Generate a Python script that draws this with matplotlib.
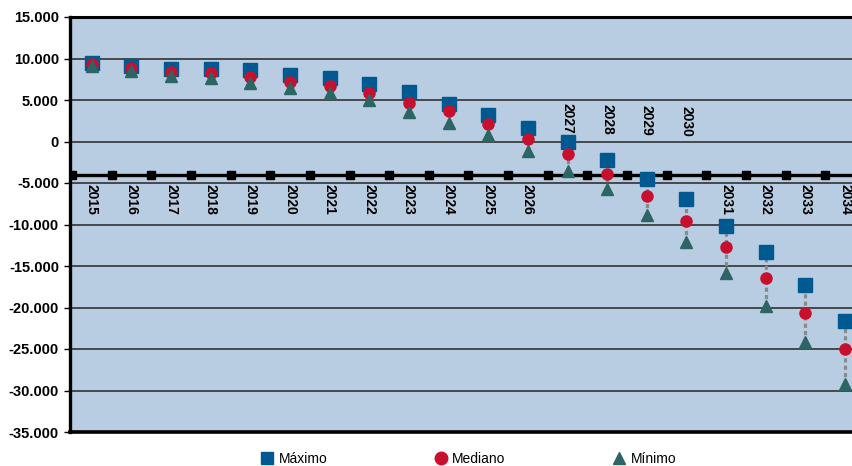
import numpy as np
import matplotlib
matplotlib.use("Agg")
import matplotlib.pyplot as plt
from matplotlib.lines import Line2D
from matplotlib.ticker import FuncFormatter, MultipleLocator

plt.rcParams['font.family'] = ['Liberation Sans', 'DejaVu Sans']

# Projected values per year (maximum, median, minimum scenarios)
years = list(range(2015, 2035))
maximo = [9420, 9100, 8700, 8700, 8600, 8000, 7600, 6900, 6000, 4570,
          3200, 1660, 0, -2200, -4500, -6900, -10200, -13300, -17250, -21600]
mediano = [9300, 8900, 8400, 8200, 7800, 7200, 6700, 5850, 4650, 3670,
           2060, 360, -1540, -3900, -6600, -9600, -12700, -16500, -20700, -25000]
minimo = [9100, 8500, 7900, 7600, 7100, 6500, 5800, 4970, 3600, 2270,
          730, -1170, -3500, -5700, -8800, -12100, -15800, -19800, -24100, -29200]

# Level where the category axis crosses the value axis
axis_level = -4000
# Years whose label sits above the category axis
labels_above = [2027, 2028, 2029, 2030]

C_MAX = '#005A91'
C_MED = '#C8102E'
C_MIN = '#2D6464'
BG = '#B8CCE2'

fig = plt.figure(figsize=(8.53, 4.66), dpi=100)
ax = fig.add_axes([70 / 853, 1 - 432 / 466, 1 - 70 / 853, (432 - 17) / 466])
ax.set_facecolor(BG)

x = np.arange(len(years))
ax.set_xlim(-0.55, 19.2)
ax.set_ylim(-35000, 15000)

# horizontal gridlines
ax.yaxis.set_major_locator(MultipleLocator(5000))
ax.grid(axis='y', color='#262626', linewidth=1.1, zorder=1)
ax.set_axisbelow(True)

# category axis drawn at its crossing level, with tick squares between years
bounds = np.arange(-0.5, len(years) + 0.5, 1.0)
ax.plot(bounds, [axis_level] * len(bounds), color='black', lw=2.4,
        marker='s', ms=6, zorder=3, clip_on=True)

# high-low lines
ax.vlines(x, minimo, maximo, colors='#8A8A8A', linestyles=(0, (1.3, 1.0)),
          lw=2.3, zorder=4)

ax.plot(x, maximo, ls='none', marker='s', ms=9.5, color=C_MAX, zorder=5,
        label='Máximo')
ax.plot(x, mediano, ls='none', marker='o', ms=8, color=C_MED, zorder=6,
        label='Mediano')
ax.plot(x, minimo, ls='none', marker='^', ms=8.5, color=C_MIN, zorder=7,
        label='Mínimo')

# year labels
for xi, yr in zip(x, years):
    if yr in labels_above:
        ax.text(xi, 4600 - (yr - 2027) * 120, str(yr), rotation=-90,
                ha='center', va='top', fontsize=10, fontweight='bold',
                zorder=8)
    else:
        ax.text(xi, -5150, str(yr), rotation=-90, ha='center', va='top',
                fontsize=10, fontweight='bold', zorder=8)

ax.set_xticks([])
ax.yaxis.set_major_formatter(
    FuncFormatter(lambda v, p: f"{int(v):,}".replace(',', '.')))
ax.tick_params(axis='y', direction='out', length=4, width=1, pad=4,
               labelsize=10.5)
for lab in ax.get_yticklabels():
    lab.set_fontweight('bold')

ax.spines['right'].set_visible(False)
ax.spines['left'].set_linewidth(2.4)
ax.spines['top'].set_linewidth(2.2)
ax.spines['bottom'].set_linewidth(2.6)

handles = [
    Line2D([], [], ls='none', marker='s', ms=8, color=C_MAX),
    Line2D([], [], ls='none', marker='o', ms=9, color=C_MED),
    Line2D([], [], ls='none', marker='^', ms=9, color=C_MIN),
]
fig.legend(handles, ['Máximo', 'Mediano', 'Mínimo'], ncol=3, loc='center',
           bbox_to_anchor=(469 / 853, 1 - 459 / 466), frameon=False,
           fontsize=10, handlelength=0.8, handletextpad=0.4,
           columnspacing=7.8)

fig.savefig('out.png', dpi=100)
